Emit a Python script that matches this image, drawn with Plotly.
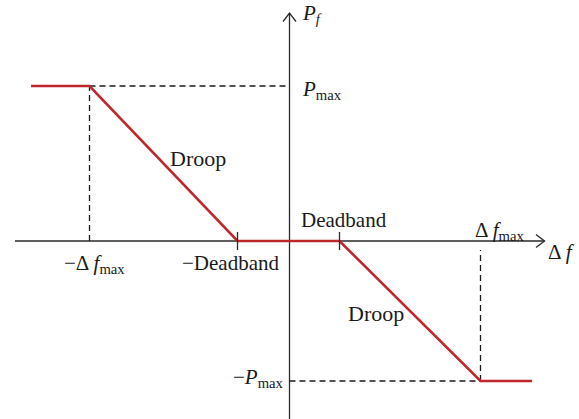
import plotly.graph_objects as go

# droop characteristic (x: delta f, y: P_f)
df_max = 3.82
df_min = -4.0
deadband_pos = 1.0
deadband_neg = -1.04
p_max = 3.1
p_min = -2.8
x_left_end = -5.17
x_right_end = 4.85

droop_x = [x_left_end, df_min, deadband_neg, deadband_pos, df_max, x_right_end]
droop_y = [p_max, p_max, 0, 0, p_min, p_min]

# axis extents
x_axis_ends = [-5.49, 5.1]
y_axis_ends = [-3.6, 4.56]

RED = "#c0272d"
INK = "#2a2a2a"
FONT = "Liberation Serif"

fig = go.Figure()

# axes
fig.add_trace(go.Scatter(x=x_axis_ends, y=[0, 0], mode="lines",
                         line=dict(color=INK, width=1.3), hoverinfo="skip"))
fig.add_trace(go.Scatter(x=[0, 0], y=y_axis_ends, mode="lines",
                         line=dict(color=INK, width=1.3), hoverinfo="skip"))

# dashed guides
dash = dict(color="#1a1a1a", width=1.3, dash="6px,4px")
fig.add_trace(go.Scatter(x=[df_min, 0], y=[p_max, p_max], mode="lines", line=dash, hoverinfo="skip"))
fig.add_trace(go.Scatter(x=[df_min, df_min], y=[0, p_max], mode="lines", line=dash, hoverinfo="skip"))
fig.add_trace(go.Scatter(x=[0, df_max], y=[p_min, p_min], mode="lines", line=dash, hoverinfo="skip"))
fig.add_trace(go.Scatter(x=[df_max, df_max], y=[p_min, -0.18], mode="lines", line=dash, hoverinfo="skip"))

# droop curve
fig.add_trace(go.Scatter(x=droop_x, y=droop_y, mode="lines",
                         line=dict(color=RED, width=2.6), hoverinfo="skip"))

# deadband ticks
for xt in [deadband_neg, deadband_pos]:
    fig.add_shape(type="line", x0=xt, x1=xt, y0=-0.18, y1=0.18,
                  line=dict(color=INK, width=1.3))

# open arrow heads
xe = x_axis_ends[1]
fig.add_trace(go.Scatter(x=[xe - 0.17, xe, xe - 0.17], y=[0.13, 0, -0.13], mode="lines",
                         line=dict(color=INK, width=1.3), hoverinfo="skip"))
ye = y_axis_ends[1]
fig.add_trace(go.Scatter(x=[-0.13, 0, 0.13], y=[ye - 0.17, ye, ye - 0.17], mode="lines",
                         line=dict(color=INK, width=1.3), hoverinfo="skip"))

labels = [
    (0.2, 4.54, "<i>P</i><sub><i>f</i></sub>", "left", "middle", 21),
    (0.2, 3.02, "<i>P</i><sub>max</sub>", "left", "middle", 21),
    (-0.07, -2.74, "−<i>P</i><sub>max</sub>", "right", "middle", 21),
    (-3.91, -0.45, "−Δ\u2009<i>f</i><sub>max</sub>", "center", "middle", 21),
    (-1.19, -0.43, "−Deadband", "center", "middle", 21),
    (1.09, 0.42, "Deadband", "center", "middle", 21),
    (4.21, 0.2, "Δ\u2009<i>f</i><sub>max</sub>", "center", "middle", 21),
    (5.13, -0.22, "Δ\u2009<i>f</i>", "left", "middle", 21),
    (-1.83, 1.66, "Droop", "center", "middle", 22),
    (1.73, -1.44, "Droop", "center", "middle", 22),
]
for x, y, t, xa, ya, sz in labels:
    fig.add_annotation(x=x, y=y, text=t, showarrow=False, xanchor=xa, yanchor=ya,
                       font=dict(family=FONT, size=sz, color="#1a1a1a"))

fig.update_layout(
    width=579, height=419, autosize=False,
    margin=dict(l=0, r=0, t=0, b=0),
    paper_bgcolor="white", plot_bgcolor="white",
    showlegend=False,
    xaxis=dict(range=[-5.79, 5.79], visible=False, fixedrange=True),
    yaxis=dict(range=[-3.56, 4.82], visible=False, fixedrange=True),
)

# drop the default page margin so the figure sits at the window corner
fig.write_html("out.html", config={"displayModeBar": False},
               post_script="document.body.style.margin='0';document.body.style.overflow='hidden';")
